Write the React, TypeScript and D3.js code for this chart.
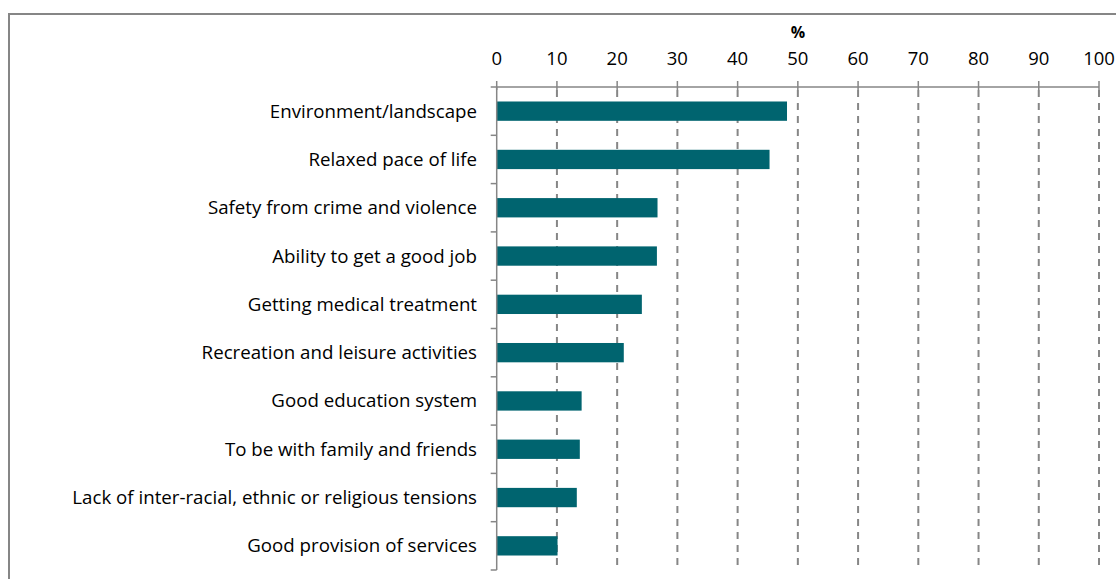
import * as d3 from 'd3'
import { useEffect, useRef } from 'react'

const categories = [
  'Environment/landscape',
  'Relaxed pace of life',
  'Safety from crime and violence',
  'Ability to get a good job',
  'Getting medical treatment',
  'Recreation and leisure activities',
  'Good education system',
  'To be with family and friends',
  'Lack of inter-racial, ethnic or religious tensions',
  'Good provision of services',
]
const values = [48.2, 45.3, 26.7, 26.6, 24.1, 21.1, 14.1, 13.8, 13.3, 10.1]
const xTicks = [0, 10, 20, 30, 40, 50, 60, 70, 80, 90, 100]

const W = 1116
const H = 579
const X0 = 496.7
const X1 = 1099
const Y0 = 87
const Y1 = 570
const BAR_COLOR = '#00646F'
const GRID = '#868686'
const FONT = '"Open Sans", sans-serif'

export default function App() {
  const svgRef = useRef<SVGSVGElement>(null)

  useEffect(() => {
    if (!svgRef.current) return
    const svg = d3.select(svgRef.current)
    svg.selectAll('*').remove()

    // outer frame (runs off the right and bottom edges)
    svg.append('rect')
      .attr('x', 9).attr('y', 14)
      .attr('width', W + 20).attr('height', H + 20)
      .attr('fill', 'white')
      .attr('stroke', GRID)
      .attr('stroke-width', 2)

    const x = d3.scaleLinear().domain([0, 100]).range([X0, X1])
    const y = d3.scaleBand<string>().domain(categories).range([Y0, Y1]).paddingInner(0.6).paddingOuter(0.3)
    const yb = d3.scaleBand<string>().domain(categories).range([Y0, Y1])

    // dashed gridlines
    svg.append('g').selectAll('line')
      .data(xTicks.filter(t => t > 0))
      .enter().append('line')
      .attr('x1', d => x(d)).attr('x2', d => x(d))
      .attr('y1', Y0 + 3).attr('y2', Y1)
      .attr('stroke', GRID)
      .attr('stroke-width', 2)
      .attr('stroke-dasharray', '7,6')

    // bars
    svg.append('g').selectAll('rect')
      .data(categories)
      .enter().append('rect')
      .attr('x', x(0))
      .attr('y', d => y(d)!)
      .attr('width', (_, i) => x(values[i]) - x(0))
      .attr('height', y.bandwidth())
      .attr('fill', BAR_COLOR)

    // top axis
    const axisG = svg.append('g')
    axisG.append('line')
      .attr('x1', X0).attr('x2', X1).attr('y1', Y0).attr('y2', Y0)
      .attr('stroke', GRID).attr('stroke-width', 1.5)
    axisG.selectAll('.tk')
      .data(xTicks)
      .enter().append('line')
      .attr('x1', d => x(d)).attr('x2', d => x(d))
      .attr('y1', Y0 - 6).attr('y2', Y0 + 3)
      .attr('stroke', GRID).attr('stroke-width', 1.5)
    axisG.selectAll('text')
      .data(xTicks)
      .enter().append('text')
      .attr('x', d => x(d))
      .attr('y', 65)
      .attr('text-anchor', 'middle')
      .attr('font-family', FONT)
      .attr('font-size', 18.5)
      .attr('fill', '#000')
      .text(d => d)

    svg.append('text')
      .attr('x', x(50)).attr('y', 38)
      .attr('text-anchor', 'middle')
      .attr('font-family', FONT)
      .attr('font-size', 16)
      .attr('font-weight', 'bold')
      .text('%')

    // left axis
    const yAxis = svg.append('g')
    yAxis.append('line')
      .attr('x1', X0).attr('x2', X0).attr('y1', Y0).attr('y2', Y1)
      .attr('stroke', GRID).attr('stroke-width', 1.5)
    const bounds = [...categories.map(c => yb(c)!), Y1]
    yAxis.selectAll('.yt')
      .data(bounds)
      .enter().append('line')
      .attr('x1', X0 - 6).attr('x2', X0)
      .attr('y1', d => d).attr('y2', d => d)
      .attr('stroke', GRID).attr('stroke-width', 1.5)
    yAxis.selectAll('text')
      .data(categories)
      .enter().append('text')
      .attr('x', 477)
      .attr('y', d => yb(d)! + yb.bandwidth() / 2)
      .attr('dy', '0.35em')
      .attr('text-anchor', 'end')
      .attr('font-family', FONT)
      .attr('font-size', 18.7)
      .attr('fill', '#000')
      .text(d => d)
  }, [])

  return (
    <svg ref={svgRef} width={W} height={H}
      style={{ position: 'absolute', left: 0, top: 0, display: 'block' }} />
  )
}
